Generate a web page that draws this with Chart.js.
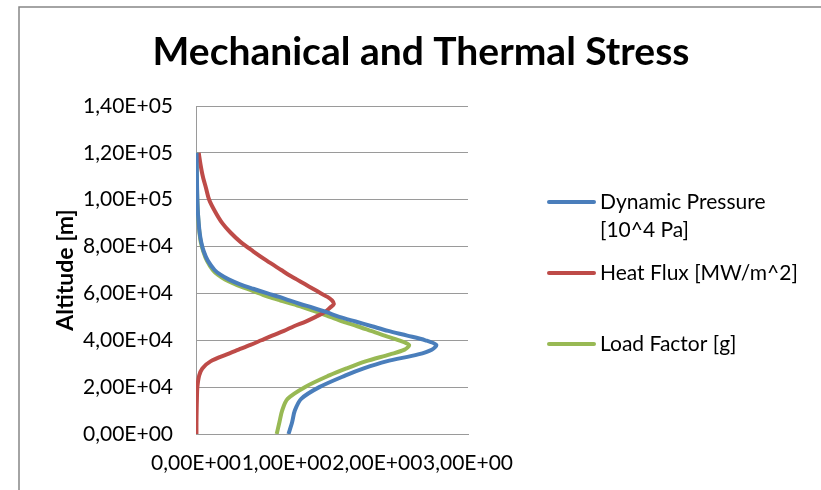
<!DOCTYPE html>
<html>
<head>
<meta charset="utf-8">
<script src="https://cdn.jsdelivr.net/npm/chart.js@4"></script>
<style>
  html, body { margin: 0; padding: 0; background: #ffffff; }
  #wrap { width: 821px; height: 490px; position: relative; }
</style>
</head>
<body>
<div id="wrap"><canvas id="c" width="821" height="490"></canvas></div>
<script>
const chartTitle = 'Mechanical and Thermal Stress';
const yAxisTitle = 'Altitude [m]';
const xTickLabels = ['0,00E+00', '1,00E+00', '2,00E+00', '3,00E+00'];
const yTickLabels = ['0,00E+00', '2,00E+04', '4,00E+04', '6,00E+04', '8,00E+04', '1,00E+05', '1,20E+05', '1,40E+05'];
const seriesNames = [['Dynamic Pressure', '[10^4 Pa]'], ['Heat Flux [MW/m^2]'], ['Load Factor [g]']];

const altitude = [0, 5000, 10000, 15000, 20000, 25000, 28000, 31000, 34000, 36000, 38000, 40000, 42000, 44000, 46000, 48000, 50000, 52000, 54000, 55500, 57000, 58500, 60000, 62000, 64000, 66000, 68000, 70000, 74000, 78000, 82000, 86000, 90000, 95000, 100000, 105000, 110000, 115000, 120000];
const dynamicPressure = [1.02, 1.06, 1.09, 1.16, 1.36, 1.65, 1.85, 2.10, 2.45, 2.60, 2.65, 2.53, 2.33, 2.12, 1.94, 1.76, 1.58, 1.44, 1.28, 1.15, 1.03, 0.92, 0.79, 0.63, 0.48, 0.36, 0.27, 0.205, 0.13, 0.085, 0.057, 0.04, 0.03, 0.02, 0.015, 0.012, 0.01, 0.008, 0.006];
const heatFlux = [0.005, 0.005, 0.007, 0.01, 0.015, 0.035, 0.07, 0.16, 0.34, 0.47, 0.60, 0.72, 0.84, 0.97, 1.08, 1.21, 1.32, 1.42, 1.48, 1.52, 1.50, 1.45, 1.38, 1.29, 1.20, 1.11, 1.02, 0.94, 0.78, 0.63, 0.49, 0.38, 0.29, 0.21, 0.145, 0.11, 0.075, 0.05, 0.03];
const loadFactor = [0.89, 0.92, 0.95, 1.01, 1.20, 1.47, 1.66, 1.87, 2.14, 2.30, 2.35, 2.24, 2.08, 1.93, 1.78, 1.62, 1.48, 1.34, 1.19, 1.07, 0.93, 0.80, 0.70, 0.56, 0.43, 0.32, 0.24, 0.185, 0.12, 0.08, 0.052, 0.038, 0.028, 0.02, 0.014, 0.011, 0.009, 0.007, 0.005];

const colors = ['#4a7ebb', '#be4b48', '#98b954'];
const FONT = 'Lato, "Open Sans", sans-serif';

function pts(vals) { return vals.map((v, i) => ({ x: v, y: altitude[i] })); }

const decor = {
  id: 'decor',
  beforeDraw(chart) {
    const ctx = chart.ctx;
    ctx.save();
    ctx.fillStyle = '#ffffff';
    ctx.fillRect(0, 0, chart.width, chart.height);
    ctx.strokeStyle = '#868686';
    ctx.lineWidth = 1.5;
    ctx.beginPath();
    ctx.moveTo(19, chart.height);
    ctx.lineTo(19, 7);
    ctx.lineTo(chart.width, 7);
    ctx.stroke();
    ctx.restore();
  },
  afterDraw(chart) {
    const ctx = chart.ctx;
    ctx.save();
    ctx.fillStyle = '#000000';
    ctx.font = 'bold 39px ' + FONT;
    ctx.textAlign = 'center';
    ctx.textBaseline = 'middle';
    ctx.fillText(chartTitle, 421, 52);
    // legend
    const legendY = [202, 273, 344];
    ctx.font = '21px ' + FONT;
    ctx.textAlign = 'left';
    chart.data.datasets.forEach((ds, i) => {
      const y = legendY[i];
      ctx.strokeStyle = ds.borderColor;
      ctx.lineWidth = 4;
      ctx.lineCap = 'round';
      ctx.beginPath();
      ctx.moveTo(549, y);
      ctx.lineTo(594, y);
      ctx.stroke();
      ctx.fillStyle = '#000000';
      seriesNames[i].forEach((t, k) => ctx.fillText(t, 600, y + k * 28));
    });
    ctx.restore();
  }
};

new Chart(document.getElementById('c'), {
  type: 'scatter',
  data: {
    datasets: [
      { label: seriesNames[0].join(' '), data: pts(dynamicPressure), borderColor: colors[0], backgroundColor: colors[0] },
      { label: seriesNames[1].join(' '), data: pts(heatFlux), borderColor: colors[1], backgroundColor: colors[1] },
      { label: seriesNames[2].join(' '), data: pts(loadFactor), borderColor: colors[2], backgroundColor: colors[2] }
    ].map(d => Object.assign(d, { showLine: true, pointRadius: 0, borderWidth: 4, tension: 0.3, fill: false }))
  },
  options: {
    responsive: false,
    animation: false,
    devicePixelRatio: 1,
    layout: { padding: { left: 52, top: 106, right: 353, bottom: 0 } },
    plugins: { legend: { display: false }, tooltip: { enabled: false }, title: { display: false } },
    scales: {
      x: {
        type: 'linear', min: 0, max: 3,
        afterFit: s => { s.height = 56; },
        grid: { display: false, drawTicks: false },
        border: { display: true, color: '#9a9a9a', width: 1 },
        ticks: {
          stepSize: 1, autoSkip: false, maxRotation: 0, padding: 17,
          color: '#000000', font: { family: FONT, size: 21 },
          callback: (v, i) => xTickLabels[i]
        }
      },
      y: {
        type: 'linear', min: 0, max: 140000,
        afterFit: s => { s.width = 144; },
        grid: { color: '#9a9a9a', lineWidth: 1, drawTicks: false },
        border: { display: true, color: '#9a9a9a', width: 1 },
        title: { display: true, text: yAxisTitle, color: '#000000', font: { family: FONT, size: 23, weight: 'bold' }, padding: { top: 0, bottom: 0 } },
        ticks: {
          stepSize: 20000, autoSkip: false, padding: 23,
          color: '#000000', font: { family: FONT, size: 21 },
          callback: (v, i) => yTickLabels[i]
        }
      }
    }
  },
  plugins: [decor]
});
</script>
</body>
</html>
